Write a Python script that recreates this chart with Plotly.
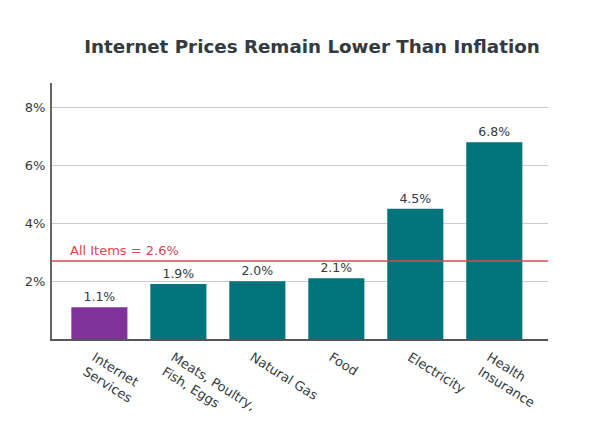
import plotly.graph_objects as go

categories = ["Internet<br>Services", "Meats, Poultry,<br>Fish, Eggs", "Natural Gas", "Food", "Electricity", "Health<br>Insurance"]
values = [1.1, 1.9, 2.0, 2.1, 4.5, 6.8]
value_labels = ["1.1%", "1.9%", "2.0%", "2.1%", "4.5%", "6.8%"]
bar_colors = ["#7f3399", "#00747a", "#00747a", "#00747a", "#00747a", "#00747a"]
all_items_label = "All Items = 2.6%"
all_items_line = 2.7
y_ticks = [2, 4, 6, 8]
y_tick_labels = ["2%", "4%", "6%", "8%"]

FONT = "DejaVu Sans, sans-serif"
TXT = "#333a40"

fig = go.Figure()
fig.add_trace(go.Bar(
    x=list(range(len(categories))), y=values, marker_color=bar_colors, marker_line_width=0,
    text=value_labels, textposition="outside", cliponaxis=False,
    textfont=dict(size=12.5, color=TXT, family=FONT), width=0.71,
))
fig.add_shape(type="line", xref="paper", yref="y", x0=0, x1=1, y0=all_items_line, y1=all_items_line,
              line=dict(color="#e0454f", width=1.5), layer="above")
fig.add_annotation(xref="paper", yref="y", x=0.032, y=all_items_line, xanchor="left", yanchor="bottom",
                   text=all_items_label, showarrow=False, yshift=1,
                   font=dict(size=13, color="#e0454f", family=FONT))
fig.update_layout(
    width=597, height=442, margin=dict(l=52, r=49, t=83, b=103),
    paper_bgcolor="white", plot_bgcolor="white", showlegend=False,
    title=dict(text="<b>Internet Prices Remain Lower Than Inflation</b>", x=312 / 597, xanchor="center",
               y=1 - 47 / 442, yanchor="middle", yref="container",
               font=dict(size=18.3, color=TXT, family=FONT)),
    font=dict(family=FONT, color=TXT),
)
fig.update_xaxes(tickvals=list(range(len(categories))), ticktext=categories, range=[-0.6, 5.68],
                 tickangle=32, tickfont=dict(size=13, color=TXT, family=FONT),
                 showline=True, linecolor="#555", linewidth=2, showgrid=False, ticks="",
                 ticklabelstandoff=4, ticklabelshift=-5)
fig.update_yaxes(range=[0, 8.85], tickvals=y_ticks, ticktext=y_tick_labels,
                 tickfont=dict(size=13, color=TXT, family=FONT),
                 showline=True, linecolor="#666", linewidth=2, showgrid=True, gridcolor="#cccccc",
                 gridwidth=1, zeroline=False, ticks="", ticklabelstandoff=2)
fig.write_html("out.html", config={"displayModeBar": False},
               post_script="document.body.style.margin='0';")
